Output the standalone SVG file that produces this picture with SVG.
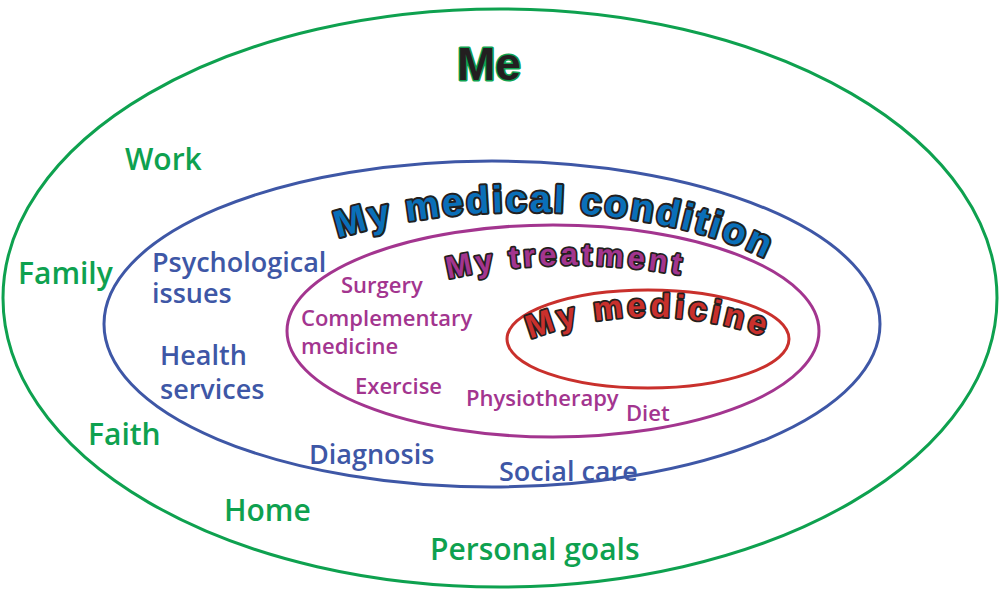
<svg xmlns="http://www.w3.org/2000/svg" width="1000" height="589" viewBox="0 0 1000 589">
<style>
.ring{fill:none;stroke-width:3}
.lbl{font-family:"Open Sans","Noto Sans",sans-serif;font-weight:600}
.g{fill:#0ea14f;font-size:30px}
.b{fill:#3e57a6;font-size:27px}
.p{fill:#a3358f;font-size:22px}
.title{font-family:"Liberation Sans",Arial,sans-serif;font-weight:bold;paint-order:stroke;stroke-linejoin:round}
</style>
<defs>
<path id="arcCond" d="M 338 238 A 300 118 0 0 1 772 262"/>
<path id="arcTreat" d="M 448 279 Q 567 251 702 279"/>
<path id="arcMed" d="M 530 339 Q 650 293 780 342"/>
</defs>
<g id="me">
<ellipse class="ring" cx="500" cy="298" rx="497" ry="289" stroke="#0ea14f"/>
<text class="title" x="489" y="80" text-anchor="middle" font-size="46" fill="#231f20" stroke="#0ea14f" stroke-width="3">Me</text>
</g>
<g id="condition">
<ellipse class="ring" cx="492" cy="324" rx="388" ry="163" stroke="#3e57a6"/>
<text class="title" font-size="38" fill="#0a6fb8" stroke="#231f20" stroke-width="4" letter-spacing="2.6"><textPath href="#arcCond">My medical condition</textPath></text>
</g>
<g id="treatment">
<ellipse class="ring" cx="553" cy="331" rx="266" ry="106" stroke="#a3358f"/>
<text class="title" font-size="31" fill="#a3358f" stroke="#231f20" stroke-width="3.5" letter-spacing="3.7"><textPath href="#arcTreat">My treatment</textPath></text>
</g>
<g id="medicine">
<ellipse class="ring" cx="648" cy="339" rx="141" ry="49" stroke="#c9302c"/>
<text class="title" font-size="33" fill="#c9302c" stroke="#231f20" stroke-width="3.5" letter-spacing="4"><textPath href="#arcMed">My medicine</textPath></text>
</g>
<g id="me-labels" class="lbl">
<text class="g" x="125" y="170">Work</text>
<text class="g" x="18" y="284">Family</text>
<text class="g" x="88" y="445">Faith</text>
<text class="g" x="224" y="521">Home</text>
<text class="g" x="430" y="560">Personal goals</text>
</g>
<g id="condition-labels" class="lbl">
<text class="b" x="152" y="272">Psychological</text>
<text class="b" x="152" y="303">issues</text>
<text class="b" x="160" y="365">Health</text>
<text class="b" x="160" y="399">services</text>
<text class="b" x="309" y="464">Diagnosis</text>
<text class="b" x="499" y="481">Social care</text>
</g>
<g id="treatment-labels" class="lbl">
<text class="p" x="341" y="293">Surgery</text>
<text class="p" x="301" y="326">Complementary</text>
<text class="p" x="301" y="354">medicine</text>
<text class="p" x="355" y="394">Exercise</text>
<text class="p" x="466" y="406">Physiotherapy</text>
<text class="p" x="626" y="421">Diet</text>
</g>
</svg>
